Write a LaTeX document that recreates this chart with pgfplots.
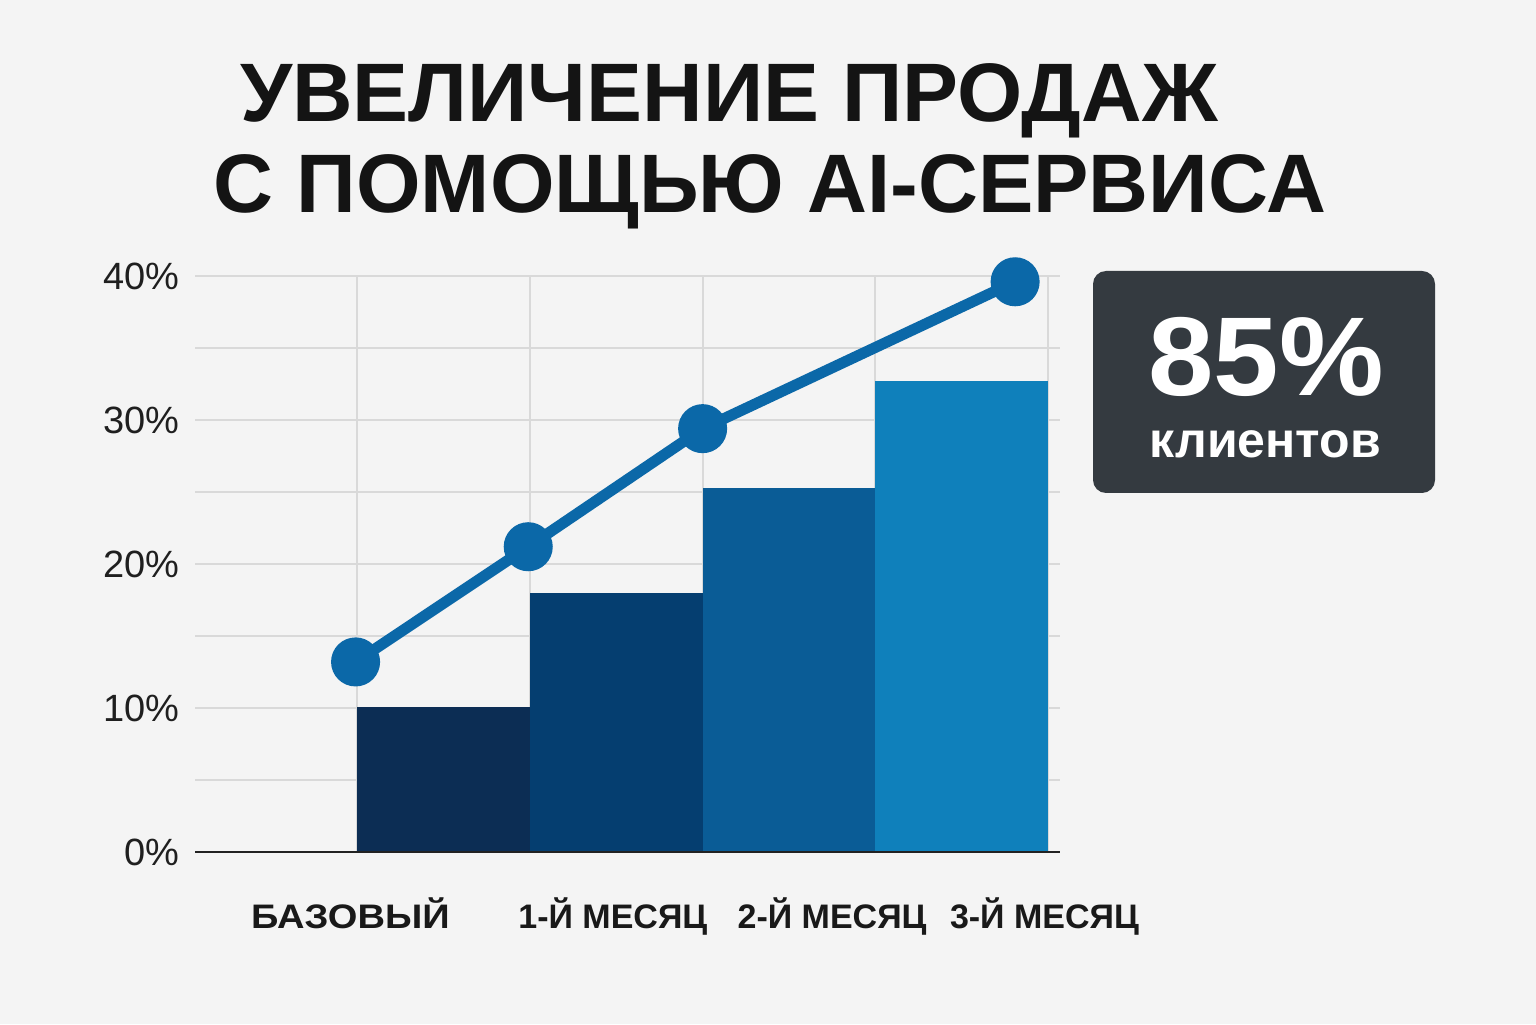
\documentclass[border=0pt]{standalone}
\usepackage{fontspec}
\setmainfont{Liberation Sans}
\usepackage{pgfplots}
\pgfplotsset{compat=1.18}
\definecolor{bg}{HTML}{F4F4F4}
\definecolor{gridc}{HTML}{D9D9D9}
\definecolor{barA}{HTML}{0C2D54}
\definecolor{barB}{HTML}{053E70}
\definecolor{barC}{HTML}{0A5C96}
\definecolor{barD}{HTML}{0F80BB}
\definecolor{linec}{HTML}{0B68A8}
\definecolor{boxc}{HTML}{343A40}
\definecolor{axisc}{HTML}{222222}
\begin{document}
\begin{tikzpicture}
\fill[bg] (0,0) rectangle (768pt,512pt);
\node[anchor=base, font=\bfseries\fontsize{41.5}{41.5}\selectfont, text=black!92, inner sep=0pt] at (364.5pt,451pt) {\scalebox{1.01}[1]{УВЕЛИЧЕНИЕ ПРОДАЖ}};
\node[anchor=base, font=\bfseries\fontsize{41.5}{41.5}\selectfont, text=black!92, inner sep=0pt] at (385pt,405.5pt) {С ПОМОЩЬЮ AI-СЕРВИСА};
\begin{axis}[
  at={(97.5pt,86pt)}, anchor=south west,
  scale only axis, width=432.5pt, height=288pt,
  xmin=-0.44, xmax=4.57, ymin=0, ymax=40,
  clip=false,
  axis line style={draw=none},
  major tick length=0pt, minor tick length=0pt,
  ytick={0,10,20,30,40},
  yticklabels={0\%,10\%,20\%,30\%,40\%},
  minor ytick={5,15,25,35},
  ymajorgrids, yminorgrids,
  major grid style={gridc, line width=1pt},
  minor grid style={gridc, line width=1pt},
  yticklabel style={font=\fontsize{19}{19}\selectfont, anchor=east, inner sep=0pt, xshift=-7.5pt, text=black!88},
  xtick={0.46,1.98,3.25,4.48},
  xticklabels={\scalebox{1.12}[1]{БАЗОВЫЙ},1-Й МЕСЯЦ,2-Й МЕСЯЦ,3-Й МЕСЯЦ},
  xticklabel style={font=\bfseries\fontsize{17}{17}\selectfont, anchor=base, inner sep=0pt, yshift=-38pt, text=black!90},
  extra x ticks={0.5,1.5,2.5,3.5,4.5},
  extra x tick labels={},
  extra x tick style={grid=major, major grid style={gridc, line width=1pt}},
]
\addplot[ybar, bar width=1, bar shift=0pt, fill=barA, draw=none] coordinates {(1,10.1)};
\addplot[ybar, bar width=1, bar shift=0pt, fill=barB, draw=none] coordinates {(2,18.0)};
\addplot[ybar, bar width=1, bar shift=0pt, fill=barC, draw=none] coordinates {(3,25.3)};
\addplot[ybar, bar width=1, bar shift=0pt, fill=barD, draw=none] coordinates {(4,32.7)};
\addplot[linec, line width=5.5pt, mark=*, mark size=9.5pt, mark options={fill=linec, draw=none}]
  coordinates {(0.49,13.2) (1.49,21.2) (2.5,29.4) (4.31,39.6)};
\draw[axisc, line width=1pt] (rel axis cs:0,0) -- (rel axis cs:1,0);
\end{axis}
\fill[boxc, rounded corners=6.5pt] (546.5pt,265.5pt) rectangle (717.5pt,376.5pt);
\node[anchor=base, text=white, font=\bfseries\fontsize{56}{56}\selectfont, inner sep=0pt] at (633pt,314pt) {\scalebox{1.05}[1]{85\%}};
\node[anchor=base, text=white, font=\bfseries\fontsize{25}{25}\selectfont, inner sep=0pt] at (632.75pt,283pt) {клиентов};
\end{tikzpicture}
\end{document}
